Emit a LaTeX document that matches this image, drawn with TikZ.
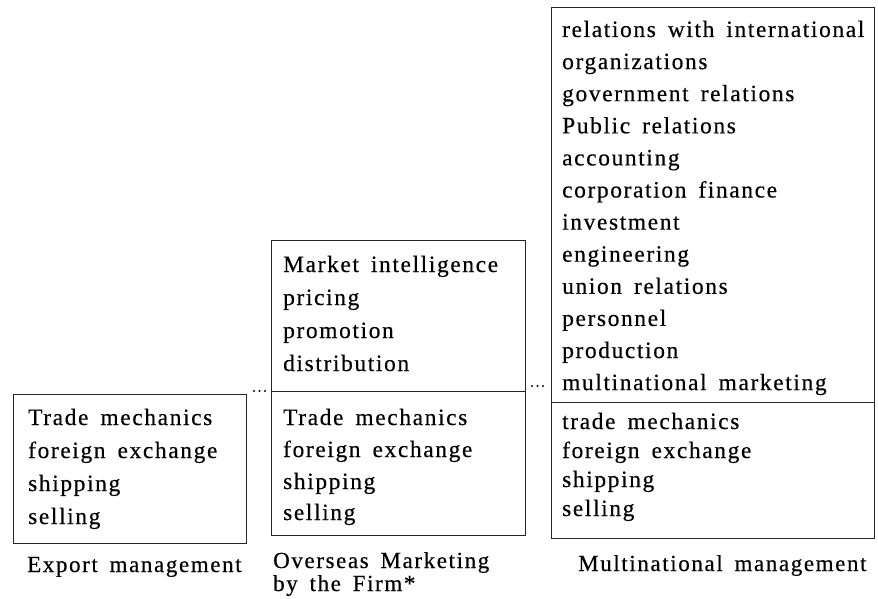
\documentclass[tikz,border=0pt]{standalone}
\usepackage{fontspec}
\setmainfont{Liberation Serif}[LetterSpace=7, WordSpace=1.6, FakeBold=0.4]
\begin{document}
\begin{tikzpicture}[x=1pt,y=-1pt,
  item/.style={anchor=base west, inner sep=0pt, font=\fontsize{23.4}{28}\selectfont},
  caption/.style={anchor=base west, inner sep=0pt,
    font=\fontsize{23}{20}\selectfont},
  frame/.style={draw=black!85, line width=0.9pt},
  leader/.style={draw=black, line width=2.3pt, line cap=round,
    dash pattern=on 0pt off 5.5pt}]
\useasboundingbox (0,0) rectangle (878,599);

% ---- Export management ----
\coordinate (b1nw) at (13,394);
\coordinate (b1se) at (246,543);
\draw[frame] (b1nw) rectangle (b1se);
\node[item] (e1) at (28,425) {Trade mechanics};
\node[item] (e2) at (28,458) {foreign exchange};
\node[item] (e3) at (28,491) {shipping};
\node[item] (e4) at (28,524) {selling};
\node[caption] (c1) at (27,572) {Export management};

% ---- Overseas marketing by the firm ----
\coordinate (b2nw) at (271,240);
\coordinate (b2se) at (525,535);
\coordinate (b2dl) at (271,391);
\coordinate (b2dr) at (525,391);
\draw[frame] (b2nw) rectangle (b2se);
\draw[frame] (b2dl) -- (b2dr);
\node[item] (o1) at (283,272) {Market intelligence};
\node[item] (o2) at (283,305) {pricing};
\node[item] (o3) at (283,338) {promotion};
\node[item] (o4) at (283,371) {distribution};
\node[item] (o5) at (283,425) {Trade mechanics};
\node[item] (o6) at (283,457) {foreign exchange};
\node[item] (o7) at (283,489) {shipping};
\node[item] (o8) at (283,520) {selling};
\node[caption] (c2a) at (273,568) {Overseas Marketing};
\node[caption] (c2b) at (273,591) {by the Firm*};

% ---- Multinational management ----
\coordinate (b3nw) at (551,7);
\coordinate (b3se) at (874,538);
\coordinate (b3dl) at (551,402);
\coordinate (b3dr) at (874,402);
\draw[frame] (b3nw) rectangle (b3se);
\draw[frame] (b3dl) -- (b3dr);
\foreach \t [count=\i from 0] in {relations with international, organizations,
  government relations, Public relations, accounting, corporation finance,
  investment, engineering, union relations, personnel, production,
  multinational marketing}
  \node[item] (m\i) at (562,37+32.1*\i) {\t};
\node[item] (m12) at (562,429) {trade mechanics};
\node[item] (m13) at (562,458) {foreign exchange};
\node[item] (m14) at (562,487) {shipping};
\node[item] (m15) at (562,516) {selling};
\node[caption] (c3) at (578,571) {Multinational management};

% ---- dotted leaders between the stages ----
\coordinate (d1a) at (254,391);
\coordinate (d1b) at (265,391);
\coordinate (d2a) at (532,386);
\coordinate (d2b) at (545,386);
\draw[leader] (d1a) -- (d1b);
\draw[leader] (d2a) -- (d2b);
\end{tikzpicture}
\end{document}
